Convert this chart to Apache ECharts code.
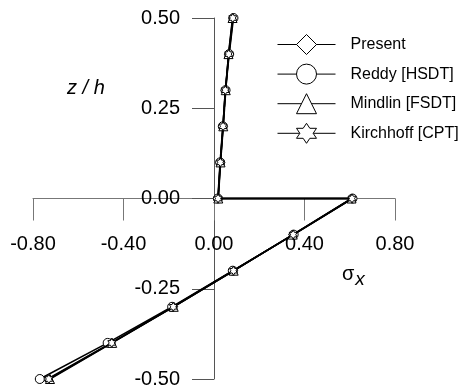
<!DOCTYPE html>
<html>
<head>
<meta charset="utf-8">
<script src="https://cdn.jsdelivr.net/npm/echarts@6/dist/echarts.min.js"></script>
<style>
  html, body { margin: 0; padding: 0; background: #fff; }
  #chart { width: 465px; height: 392px; }
</style>
</head>
<body>
<div id="chart"></div>
<script>
// z/h levels, bottom to top (z = 0 appears twice: jump in stress)
var zLevels = [-0.5, -0.4, -0.3, -0.2, -0.1, 0, 0, 0.1, 0.2, 0.3, 0.4, 0.5]
var presentX = [-0.735, -0.455, -0.18, 0.085, 0.35, 0.61, 0.018, 0.028, 0.04, 0.05, 0.066, 0.084]
var reddyX = [-0.77, -0.47, -0.185, 0.083, 0.352, 0.612, 0.017, 0.027, 0.039, 0.051, 0.067, 0.086]
var mindlinX = [-0.725, -0.45, -0.178, 0.087, 0.348, 0.608, 0.019, 0.029, 0.041, 0.052, 0.064, 0.082]
var kirchhoffX = [-0.73, -0.452, -0.18, 0.086, 0.35, 0.61, 0.018, 0.028, 0.04, 0.05, 0.065, 0.083]
var seriesNames = ['Present', 'Reddy [HSDT]', 'Mindlin [FSDT]', 'Kirchhoff [CPT]']

var hexagram = 'path://M50 0 L64.43 25 L93.3 25 L78.87 50 L93.3 75 L64.43 75 L50 100 L35.57 75 L6.7 75 L21.13 50 L6.7 25 L35.57 25 Z'
var symbols = ['diamond', 'circle', 'triangle', hexagram]

function pairs(xs) {
  return xs.map(function (x, i) { return [x, zLevels[i]] })
}

var chart = echarts.init(document.getElementById('chart'))
var font = 'Liberation Sans, Arial, sans-serif'

// grid box; axes are shifted in to cross at the origin
var gridW = 362
var gridH = 361

chart.setOption({
  animation: false,
  title: [{
    text: 'z / h',
    left: 62,
    top: 73,
    textStyle: { fontFamily: font, fontSize: 20, fontStyle: 'italic', fontWeight: 'normal', color: '#000' }
  }, {
    text: '{s|σ}{sub|x}',
    left: 337,
    top: 255,
    textStyle: {
      fontWeight: 'normal',
      rich: {
        s: { fontFamily: font, fontSize: 20, fontWeight: 'normal', color: '#000' },
        sub: { fontFamily: font, fontSize: 19, fontWeight: 'normal', fontStyle: 'italic', color: '#000', padding: [10, 0, 0, 1] }
      }
    }
  }],
  legend: {
    orient: 'vertical',
    left: 272,
    top: 29,
    itemWidth: 58,
    itemHeight: 25,
    itemGap: 8.6,
    lineStyle: { width: 1 },
    itemStyle: { borderWidth: 1 },
    textStyle: { fontFamily: font, fontSize: 16, color: '#000', padding: [0, 0, 0, 10] },
    data: seriesNames
  },
  grid: { left: 33, top: 18, width: gridW, height: gridH, containLabel: false, outerBoundsMode: 'none' },
  xAxis: {
    type: 'value',
    min: -0.8,
    max: 0.8,
    interval: 0.4,
    offset: -gridH / 2,
    splitLine: { show: false },
    axisLine: { onZero: false, lineStyle: { color: '#777', width: 1 } },
    axisTick: { length: 22, lineStyle: { color: '#777' } },
    axisLabel: {
      margin: 36,
      fontFamily: font,
      fontSize: 20,
      color: '#000',
      formatter: function (v) { return v.toFixed(2) }
    }
  },
  yAxis: {
    type: 'value',
    min: -0.5,
    max: 0.5,
    interval: 0.25,
    offset: -gridW / 2,
    splitLine: { show: false },
    axisLine: { onZero: false, lineStyle: { color: '#555', width: 1 } },
    axisTick: { length: 22, lineStyle: { color: '#555' } },
    axisLabel: {
      margin: 34,
      fontFamily: font,
      fontSize: 20,
      color: '#000',
      formatter: function (v) { return v.toFixed(2) }
    }
  },
  series: [presentX, reddyX, mindlinX, kirchhoffX].map(function (xs, i) {
    return {
      name: seriesNames[i],
      type: 'line',
      data: pairs(xs),
      symbol: symbols[i],
      symbolSize: 9,
      symbolKeepAspect: true,
      showAllSymbol: true,
      lineStyle: { color: '#000', width: 1.6 },
      itemStyle: { color: '#fff', borderColor: '#000', borderWidth: 1 },
      z: 2 + i
    }
  })
})
</script>
</body>
</html>
